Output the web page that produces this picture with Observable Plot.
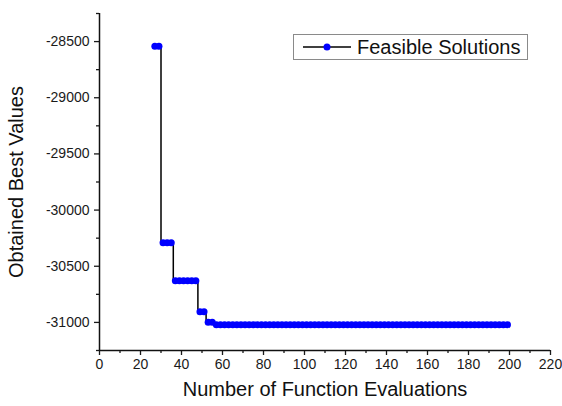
<!DOCTYPE html>
<html>
<head>
<meta charset="utf-8">
<script src="https://cdn.jsdelivr.net/npm/d3@7"></script>
<script src="https://cdn.jsdelivr.net/npm/@observablehq/plot@0.6"></script>
<style>
  html, body { margin: 0; padding: 0; background: #fff; }
  #wrap { position: relative; width: 562px; height: 406px; font-family: "Liberation Sans", Arial, sans-serif; }
  #legend {
    position: absolute; left: 293px; top: 34px; width: 235px; height: 26px;
    border: 1px solid #8a8a8a; background: #fff; box-sizing: border-box;
    display: flex; align-items: center; font-size: 20px; color: #111;
  }
  #legend svg { margin-left: 9px; margin-right: 6px; }
</style>
</head>
<body>
<div id="wrap">
  <div id="legend">
    <svg width="48" height="12"><line x1="0" y1="6" x2="48" y2="6" stroke="#000" stroke-width="1.5"/><circle cx="24" cy="6" r="3.5" fill="#0000ff"/></svg>
    <span>Feasible Solutions</span>
  </div>
</div>
<script>
// Function evaluations at which the best feasible value was recorded
const evaluations = [
  27, 29, 31, 33, 35, 37, 39, 41, 43, 45, 47, 49, 51, 53, 55, 57, 59, 61, 63, 65,
  67, 69, 71, 73, 75, 77, 79, 81, 83, 85, 87, 89, 91, 93, 95, 97, 99, 101, 103, 105,
  107, 109, 111, 113, 115, 117, 119, 121, 123, 125, 127, 129, 131, 133, 135, 137, 139, 141, 143, 145,
  147, 149, 151, 153, 155, 157, 159, 161, 163, 165, 167, 169, 171, 173, 175, 177, 179, 181, 183, 185,
  187, 189, 191, 193, 195, 197, 199
];

// Best objective value obtained so far at each recorded evaluation
const bestValues = [
  -28541, -28541,
  -30290, -30290, -30290,
  -30630, -30630, -30630, -30630, -30630, -30630,
  -30905, -30905,
  -30998, -30998,
  -31020, -31020, -31020, -31020, -31020, -31020, -31020, -31020, -31020, -31020,
  -31020, -31020, -31020, -31020, -31020, -31020, -31020, -31020, -31020, -31020,
  -31020, -31020, -31020, -31020, -31020, -31020, -31020, -31020, -31020, -31020,
  -31020, -31020, -31020, -31020, -31020, -31020, -31020, -31020, -31020, -31020,
  -31020, -31020, -31020, -31020, -31020, -31020, -31020, -31020, -31020, -31020,
  -31020, -31020, -31020, -31020, -31020, -31020, -31020, -31020, -31020, -31020,
  -31020, -31020, -31020, -31020, -31020, -31020, -31020, -31020, -31020, -31020,
  -31020, -31020
];

const xMajorTicks = [0, 20, 40, 60, 80, 100, 120, 140, 160, 180, 200, 220];
const xMinorTicks = [10, 30, 50, 70, 90, 110, 130, 150, 170, 190, 210];
const yMajorTicks = [-31000, -30500, -30000, -29500, -29000, -28500];
const yMinorTicks = [-31250, -30750, -30250, -29750, -29250, -28750, -28250];

const xTitle = "Number of Function Evaluations";
const yTitle = "Obtained Best Values";

const data = evaluations.map((e, i) => ({evaluation: e, value: bestValues[i]}));

const chart = Plot.plot({
  width: 562,
  height: 406,
  marginLeft: 99,
  marginRight: 12,
  marginTop: 13,
  marginBottom: 56,
  style: {fontFamily: "'Liberation Sans', Arial, sans-serif", fontSize: "14px", color: "#1a1a1a", background: "transparent"},
  x: {domain: [0, 220]},
  y: {domain: [-31250, -28250]},
  marks: [
    // minor ticks
    Plot.axisX({ticks: xMinorTicks, tickSize: 3, tickFormat: () => "", label: null, strokeWidth: 1.3}),
    Plot.axisY({ticks: yMinorTicks, tickSize: 3, tickFormat: () => "", label: null, strokeWidth: 1.3}),
    // major ticks with labels
    Plot.axisX({ticks: xMajorTicks, tickSize: 5, tickPadding: 4, tickFormat: d => String(d), label: null, fontSize: 14, strokeWidth: 1.3}),
    Plot.axisY({ticks: yMajorTicks, tickSize: 5, tickPadding: 5, tickFormat: d => String(d), label: null, fontSize: 14, strokeWidth: 1.3}),
    // axis lines
    Plot.ruleX([0], {stroke: "#111", strokeWidth: 1.5}),
    Plot.ruleY([-31250], {stroke: "#111", strokeWidth: 1.5}),
    // axis titles
    Plot.text([yTitle], {frameAnchor: "left", textAnchor: "middle", dx: -83, rotate: -90, fontSize: 20, fill: "#111"}),
    Plot.text([xTitle], {frameAnchor: "bottom", textAnchor: "middle", dy: 45, fontSize: 20, fill: "#111"}),
    // series: best value held until the next improvement
    Plot.line(data, {x: "evaluation", y: "value", curve: "step", stroke: "#000", strokeWidth: 1.5}),
    Plot.dot(data, {x: "evaluation", y: "value", r: 3.5, fill: "#0000ff", stroke: "none"})
  ]
});

const wrap = document.getElementById("wrap");
wrap.insertBefore(chart, wrap.firstChild);
</script>
</body>
</html>
